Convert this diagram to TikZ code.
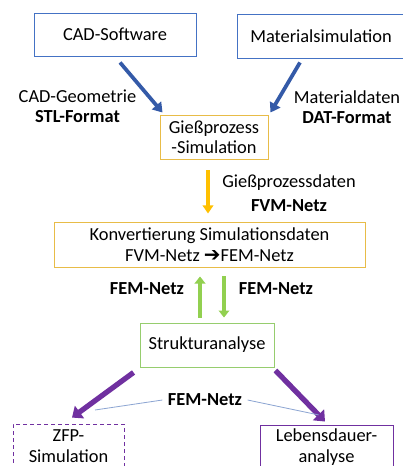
\documentclass[tikz,border=0pt]{standalone}
\usepackage{fontspec}
\setmainfont{Carlito}
\newfontfamily\symfont{DejaVu Sans}
\usepackage{tikz}
\usetikzlibrary{arrows.meta,calc}
\usepackage{xcolor}
\definecolor{boxblue}{RGB}{68,114,196}
\definecolor{arrowblue}{RGB}{52,90,168}
\definecolor{boxgold}{RGB}{232,188,72}
\definecolor{arrowgold}{RGB}{255,192,0}
\definecolor{boxgreen}{RGB}{150,205,110}
\definecolor{arrowgreen}{RGB}{146,208,80}
\definecolor{darkpurple}{RGB}{112,48,160}
\definecolor{linkblue}{RGB}{140,165,210}

\tikzset{
    databox/.style={rectangle,draw,line width=0.8pt,align=center,inner sep=0pt,font=\fontsize{15.7}{17.5}\selectfont},
    flowlabel/.style={align=center,inner sep=0pt,font=\fontsize{15.7}{17.5}\selectfont},
    bluearrow/.style={draw=arrowblue,line width=3.2pt,-{Triangle[length=8pt,width=10pt]}},
    goldarrow/.style={draw=arrowgold,line width=3pt,-{Triangle[length=7pt,width=9pt]}},
    greenarrow/.style={draw=arrowgreen,line width=3.4pt,-{Triangle[length=6pt,width=9pt]}},
    purplearrow/.style={draw=darkpurple,line width=4.5pt,-{Triangle[length=8pt,width=13pt]}},
    linkline/.style={draw=linkblue,line width=0.7pt},
}

\begin{document}
\begin{tikzpicture}[x=0.3mm,y=-0.3mm]
        \useasboundingbox (0,0) rectangle (402,466);

        % Quellen
        \node[databox,draw=boxblue,minimum width=48.6mm,minimum height=12.9mm] (cad) at (115,34.5) {CAD-Software};
        \node[databox,draw=boxblue,minimum width=50.4mm,minimum height=13.2mm] (matsim) at (321,36) {Materialsimulation};

        % Gießprozess
        \node[databox,draw=boxgold,minimum width=32.4mm,minimum height=13.2mm] (giess) at (214,137) {Gießprozess\\-Simulation};

        % Konvertierung
        \node[databox,draw=boxgold,minimum width=93.3mm,minimum height=13.5mm] (konv) at (209.5,244.5) {Konvertierung Simulationsdaten\\FVM-Netz {\symfont\bfseries\fontsize{17}{17}\selectfont ➔}FEM-Netz};

        % Struktur
        \node[databox,draw=boxgreen,minimum width=40.2mm,minimum height=13.2mm] (struktur) at (207,345) {Strukturanalyse};

        % Ziele
        \node[databox,draw=darkpurple,line width=0.7pt,dash pattern=on 1.2mm off 0.9mm,minimum width=33.3mm,minimum height=13.2mm] (zfp) at (68.5,446) {ZFP-\\Simulation};
        \node[databox,draw=darkpurple,minimum width=39.9mm,minimum height=13.2mm] (leben) at (326.5,447) {Lebensdauer-\\analyse};

        % Beschriftungen
        \node[flowlabel] (cadlbl) at (77.5,106) {CAD-Geometrie\\\textbf{STL-Format}};
        \node[flowlabel] (matlbl) at (347,107) {Materialdaten\\\textbf{DAT-Format}};
        \node[flowlabel] (giesslbl) at (289,193) {Gießprozessdaten\\[3pt]\textbf{FVM-Netz}};
        \node[flowlabel,font=\fontsize{15.7}{17.5}\selectfont\bfseries] (femleft) at (147,289) {FEM-Netz};
        \node[flowlabel,font=\fontsize{15.7}{17.5}\selectfont\bfseries] (femright) at (276,289) {FEM-Netz};
        \node[flowlabel,inner sep=1.6mm,font=\fontsize{15.7}{17.5}\selectfont\bfseries] (femmid) at (205,400) {FEM-Netz};

        % Pfeile
        \draw[bluearrow] ([shift={(5,6)}]cad.south) -- ([shift={(3,-2)}]giess.north west);
        \draw[bluearrow] ([shift={(-21,4)}]matsim.south) -- ([shift={(2,-2)}]giess.north east);
        \draw[goldarrow] ([shift={(-6,11)}]giess.south) -- ([shift={(-1.5,-8)}]konv.north);
        \draw[greenarrow] ([shift={(-7,-5)}]struktur.north) -- ([shift={(-9.5,9)}]konv.south);
        \draw[greenarrow] ([shift={(14.5,9)}]konv.south) -- ([shift={(17,-5)}]struktur.north);
        \draw[purplearrow] ([shift={(-6,5)}]struktur.south west) -- ([shift={(3.5,-6)}]zfp.north);
        \draw[purplearrow] ([shift={(1,3)}]struktur.south east) -- coordinate[pos=0.87] (hitright) ([shift={(-1.5,-3)}]leben.north);

        % Hinweislinien
        \coordinate (hitleft) at (95,410);
        \draw[linkline] (femmid.west) -- (hitleft);
        \draw[linkline] (femmid.east) -- (hitright);
\end{tikzpicture}
\end{document}
